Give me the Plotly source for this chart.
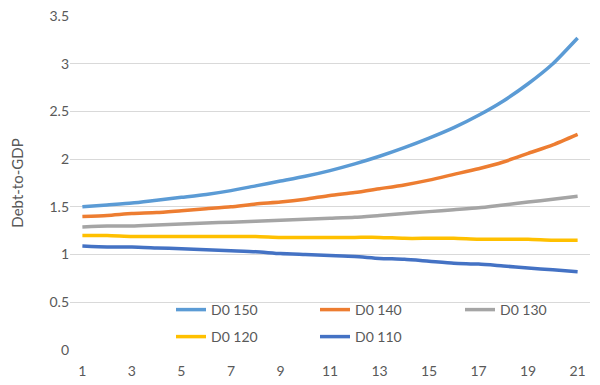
import plotly.graph_objects as go

periods = list(range(1, 22))
d0_150 = [1.50, 1.52, 1.54, 1.57, 1.60, 1.63, 1.67, 1.72, 1.77, 1.82, 1.88,
          1.95, 2.03, 2.12, 2.22, 2.33, 2.46, 2.61, 2.79, 3.00, 3.27]
d0_140 = [1.40, 1.41, 1.43, 1.44, 1.46, 1.48, 1.50, 1.53, 1.55, 1.58, 1.62,
          1.65, 1.69, 1.73, 1.78, 1.84, 1.90, 1.97, 2.06, 2.15, 2.26]
d0_130 = [1.29, 1.30, 1.30, 1.31, 1.32, 1.33, 1.34, 1.35, 1.36, 1.37, 1.38,
          1.39, 1.41, 1.43, 1.45, 1.47, 1.49, 1.52, 1.55, 1.58, 1.61]
d0_120 = [1.20, 1.20, 1.19, 1.19, 1.19, 1.19, 1.19, 1.19, 1.18, 1.18, 1.18,
          1.18, 1.18, 1.17, 1.17, 1.17, 1.16, 1.16, 1.16, 1.15, 1.15]
d0_110 = [1.09, 1.08, 1.08, 1.07, 1.06, 1.05, 1.04, 1.03, 1.01, 1.00, 0.99,
          0.98, 0.96, 0.95, 0.93, 0.91, 0.90, 0.88, 0.86, 0.84, 0.82]
x_ticks = [1, 3, 5, 7, 9, 11, 13, 15, 17, 19, 21]
y_ticks = [0, 0.5, 1, 1.5, 2, 2.5, 3, 3.5]
y_tick_labels = ["0", "0.5", "1", "1.5", "2", "2.5", "3", "3.5"]

series_names = ["D0 150", "D0 140", "D0 130", "D0 120", "D0 110"]
series_values = [d0_150, d0_140, d0_130, d0_120, d0_110]
series_colors = ["#5B9BD5", "#ED7D31", "#A5A5A5", "#FFC000", "#4472C4"]
# legend slot positions in pixels (left, top) -- one legend per entry
legend_slots = [(171, 294), (315, 294), (460, 294), (171, 321), (315, 321)]

FONT = "Lato"
TXT = "#595959"
L, R, T, B = 70, 10, 16, 35
W, H = 600, 385
PW, PH = W - L - R, H - T - B

fig = go.Figure()
legend_layout = {}
for i, (name, vals, color, slot) in enumerate(zip(series_names, series_values, series_colors, legend_slots)):
    key = "legend" if i == 0 else f"legend{i + 1}"
    fig.add_trace(go.Scatter(
        x=periods, y=vals, name=name, mode="lines",
        line=dict(color=color, width=3.5, shape="spline", smoothing=0.6),
        legend=key,
    ))
    legend_layout[key] = dict(
        orientation="h", xref="paper", yref="paper", xanchor="left", yanchor="top",
        x=(slot[0] - L) / PW, y=(H - B - slot[1]) / PH,
        font=dict(family=FONT, size=14, color=TXT),
        bgcolor="rgba(0,0,0,0)", borderwidth=0, itemclick=False,
    )

fig.update_layout(
    width=W, height=H,
    margin=dict(l=L, r=R, t=T, b=B, pad=0),
    paper_bgcolor="white", plot_bgcolor="white",
    font=dict(family=FONT, size=14, color=TXT),
    showlegend=True,
    xaxis=dict(
        range=[0.5, 21.5], tickmode="array", tickvals=x_ticks,
        ticktext=[str(v) for v in x_ticks],
        showgrid=False, zeroline=False, showline=False, automargin=False,
        ticks="", ticklabelstandoff=11,
        tickfont=dict(family=FONT, size=14, color=TXT),
    ),
    yaxis=dict(
        range=[0, 3.5], tickmode="array", tickvals=y_ticks, ticktext=y_tick_labels,
        showgrid=True, gridcolor="#D9D9D9", gridwidth=1, automargin=False,
        zeroline=False, showline=False, ticks="", ticklabelstandoff=0,
        tickfont=dict(family=FONT, size=14, color=TXT),
        title=dict(text="Debt-to-GDP", font=dict(family=FONT, size=15, color=TXT), standoff=22),
    ),
    **legend_layout,
)

fig.write_html("out.html", config={"displayModeBar": False},
               post_script="document.body.style.margin='0';document.body.style.padding='0';")
